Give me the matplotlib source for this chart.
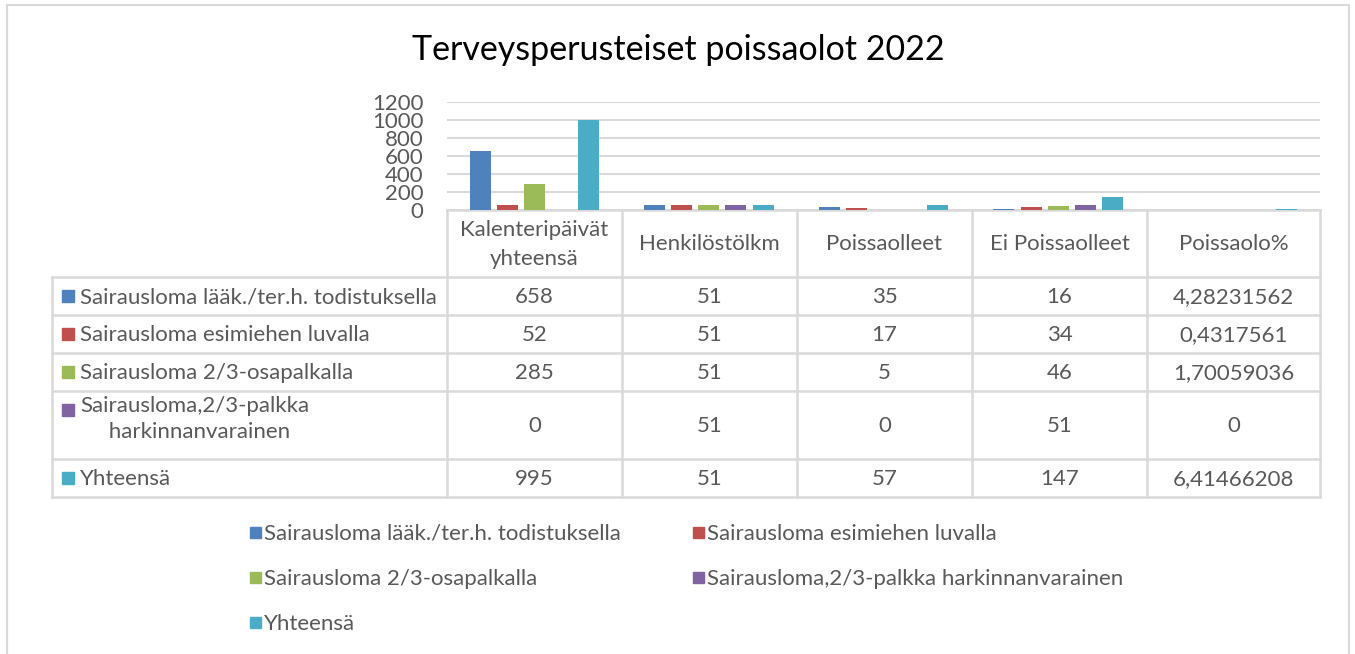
import matplotlib
matplotlib.use('Agg')
import matplotlib.pyplot as plt
from matplotlib.patches import Rectangle

W, H = 1355, 654
FONT = 'Lato'
FS = 16
TXT = '#595959'
GRID = '#d9d9d9'

title = 'Terveysperusteiset poissaolot 2022'
categories = ['Kalenteripäivät\nyhteensä', 'Henkilöstölkm', 'Poissaolleet',
              'Ei Poissaolleet', 'Poissaolo%']
series_names = ['Sairausloma lääk./ter.h. todistuksella',
                'Sairausloma esimiehen luvalla',
                'Sairausloma 2/3-osapalkalla',
                'Sairausloma,2/3-palkka harkinnanvarainen',
                'Yhteensä']
row_labels = ['Sairausloma lääk./ter.h. todistuksella',
              'Sairausloma esimiehen luvalla',
              'Sairausloma 2/3-osapalkalla',
              'Sairausloma,2/3-palkka\n     harkinnanvarainen',
              'Yhteensä']
colors = ['#4F81BD', '#C0504D', '#9BBB59', '#8064A2', '#4BACC6']

laak = [658, 51, 35, 16, 4.28231562]
esimies = [52, 51, 17, 34, 0.4317561]
osapalkka = [285, 51, 5, 46, 1.70059036]
harkinta = [0, 51, 0, 51, 0]
yhteensa = [995, 51, 57, 147, 6.41466208]
series = [laak, esimies, osapalkka, harkinta, yhteensa]

y_ticks = [0, 200, 400, 600, 800, 1000, 1200]

# pixel layout (from the reference)
plot_l, plot_r, plot_t, plot_b = 447, 1320, 102, 210
tab_l = 52
col_edges = [447, 622, 797, 972, 1147, 1320]
row_edges = [277, 315, 353, 391, 459, 497]


def fx(x):
    return x / W


def fy(y):
    return 1 - y / H


fig = plt.figure(figsize=(W / 100, H / 100), dpi=100)

# overlay in pixel coordinates for border, title, table and legend
ov = fig.add_axes([0, 0, 1, 1])
ov.set_xlim(0, W)
ov.set_ylim(H, 0)
ov.axis('off')

# chart border
ov.plot([7, 7, 1349, 1349], [H + 5, 5, 5, H + 5], color=GRID, lw=1.5)

ov.text(678, 50, title, ha='center', va='center', fontsize=24.5,
        family=FONT, color='#000000')

# bars
ax = fig.add_axes([fx(plot_l), fy(plot_b), fx(plot_r - plot_l),
                   (plot_b - plot_t) / H])
x = list(range(len(categories)))
bw = 0.12
pitch = 0.155
for i, vals in enumerate(series):
    pos = [c + (i - 2) * pitch for c in x]
    ax.bar(pos, vals, width=bw, color=colors[i], zorder=3)
ax.set_xlim(-0.5, len(categories) - 0.5)
ax.set_ylim(0, 1200)
ax.set_yticks(y_ticks)
ax.set_yticklabels([str(t) for t in y_ticks], family=FONT, fontsize=FS,
                   color=TXT)
ax.tick_params(axis='y', length=0, pad=17)
ax.set_xticks([])
ax.grid(axis='y', color=GRID, lw=1.5, zorder=0)
for s in ax.spines.values():
    s.set_visible(False)

# data table
lw = 1.8
ov.plot([plot_l, plot_r], [plot_b, plot_b], color=GRID, lw=lw)
for xe in col_edges:
    ov.plot([xe, xe], [plot_b, row_edges[-1]], color=GRID, lw=lw)
ov.plot([tab_l, tab_l], [row_edges[0], row_edges[-1]], color=GRID, lw=lw)
for ye in row_edges:
    ov.plot([tab_l, plot_r], [ye, ye], color=GRID, lw=lw)

for j, cat in enumerate(categories):
    cx = (col_edges[j] + col_edges[j + 1]) / 2
    ov.text(cx, (plot_b + row_edges[0]) / 2 + 1, cat, ha='center',
            va='center', fontsize=FS, family=FONT, color=TXT,
            linespacing=1.6)


def fmt(v):
    return str(v).replace('.', ',')


for i, vals in enumerate(series):
    y0, y1 = row_edges[i], row_edges[i + 1]
    cy = (y0 + y1) / 2
    for j, v in enumerate(vals):
        cx = (col_edges[j] + col_edges[j + 1]) / 2
        ov.text(cx, cy + 1, fmt(v), ha='center', va='center', fontsize=FS,
                family=FONT, color=TXT)
    if '\n' in row_labels[i]:
        ov.add_patch(Rectangle((62, y0 + 13), 12, 12, color=colors[i]))
        ov.text(80, y0 + 5, row_labels[i], ha='left', va='top',
                fontsize=FS, family=FONT, color=TXT, linespacing=1.4)
    else:
        ov.add_patch(Rectangle((62, cy - 6), 12, 12, color=colors[i]))
        ov.text(80, cy + 1, row_labels[i], ha='left', va='center',
                fontsize=FS, family=FONT, color=TXT)

# legend (row-major, two columns)
leg_x = [250, 693]
leg_y = [533, 578, 623]
for i, name in enumerate(series_names):
    lx = leg_x[i % 2]
    ly = leg_y[i // 2]
    ov.add_patch(Rectangle((lx, ly - 6), 11, 11, color=colors[i]))
    ov.text(lx + 14, ly + 1, name, ha='left', va='center', fontsize=FS,
            family=FONT, color=TXT)

fig.savefig('out.png', dpi=100)
